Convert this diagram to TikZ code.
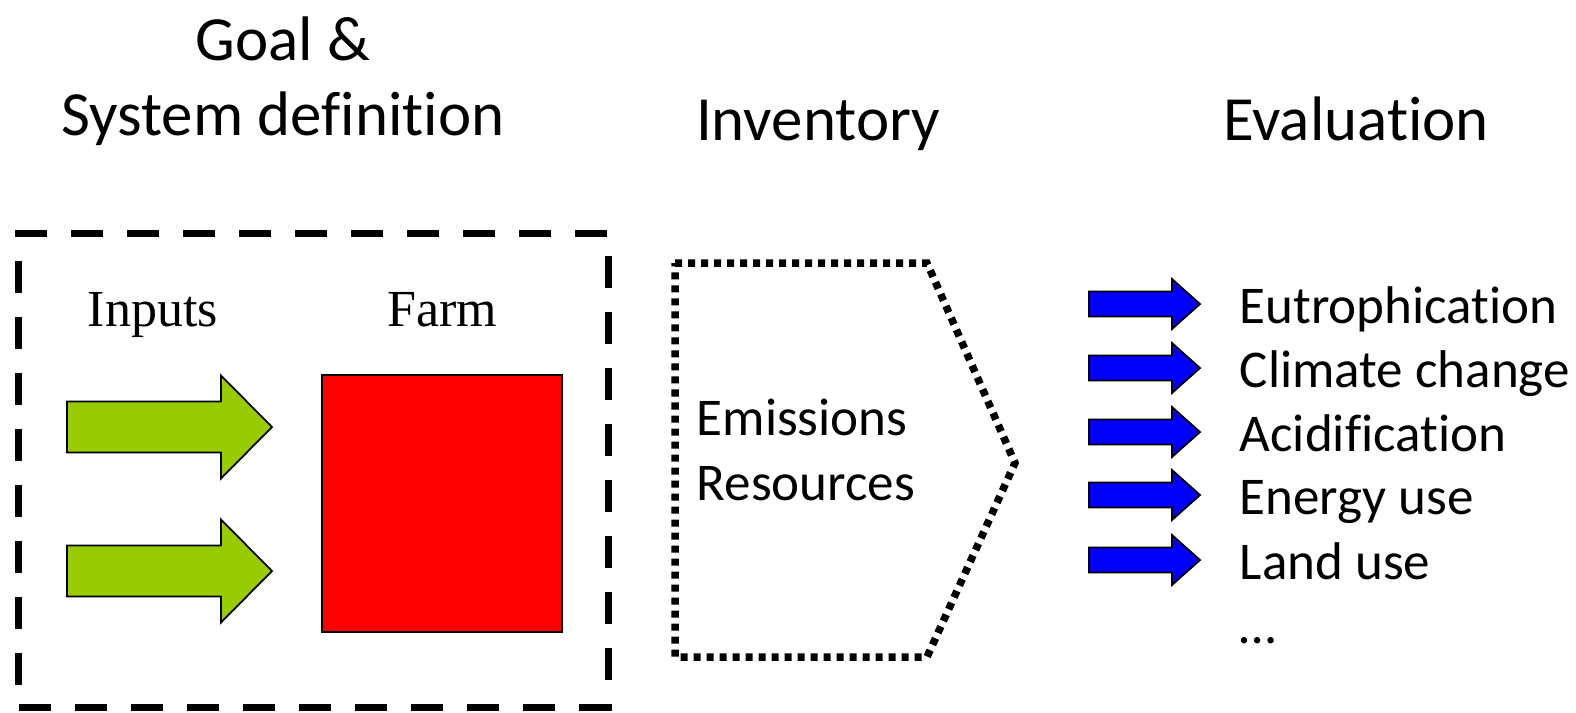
\documentclass[tikz,border=0pt]{standalone}
\usepackage{fontspec}
\setmainfont{Carlito}[Ligatures=NoCommon]
\newfontfamily\timesfont{Liberation Serif}
\usetikzlibrary{positioning, calc}
\definecolor{inputgreen}{HTML}{99CC00}
\definecolor{farmred}{HTML}{FF0000}
\definecolor{impactblue}{HTML}{0000FF}

\begin{document}
\begin{tikzpicture}[
    heading/.style={font=\fontsize{17.9}{21}\selectfont, inner sep=0, anchor=base},
    bodytext/.style={font=\fontsize{15.1}{18}\selectfont, inner sep=0, anchor=base west},
    serif/.style={font=\timesfont\fontsize{14.8}{18}\selectfont, inner sep=0, anchor=base},
    sysbound/.style={draw, line width=0.07cm, dash pattern=on 0.32cm off 0.24cm, rectangle, inner sep=0},
    invbound/.style={draw, line width=0.075cm, dash pattern=on 0.07cm off 0.06cm},
    farmbox/.style={rectangle, draw, line width=0.5pt, fill=farmred, inner sep=0, minimum width=2.4cm, minimum height=2.57cm},
    inarrow/.style={draw, line width=0.5pt, fill=inputgreen},
    outarrow/.style={draw, line width=0.5pt, fill=impactblue}
]
\useasboundingbox (0,0) rectangle (15.76,7.12);

% headings
\node[heading] (goal) at (2.83,6.52) {Goal \&};
\node[heading] (sysdef) at (2.83,5.77) {System definition};
\node[heading] (inventory) at (8.18,5.72) {Inventory};
\node[heading] (evaluation) at (13.56,5.72) {Evaluation};

% system boundary
\node[sysbound, minimum width=5.89cm, minimum height=4.74cm] (system) at (3.135,2.42) {};
\node[serif] (inputs) at (1.53,3.86) {Inputs};
\node[serif] (farmlbl) at (4.42,3.86) {Farm};
\node[farmbox] (farm) at (4.42,2.085) {};

\foreach \y in {2.85,1.41}
  \draw[inarrow] (0.67,{\y-0.255}) -- (2.21,{\y-0.255}) -- (2.21,{\y-0.515}) -- (2.72,\y)
    -- (2.21,{\y+0.515}) -- (2.21,{\y+0.255}) -- (0.67,{\y+0.255}) -- cycle;

% inventory
\draw[invbound] (6.75,4.49) -- (9.27,4.49) -- (10.15,2.49) -- (9.27,0.55) -- (6.75,0.55) -- cycle;
\node[bodytext] (emis) at (6.96,2.77) {Emissions};
\node[bodytext] (res) at ([yshift=-0.65cm]emis.base west) {Resources};

% evaluation
\foreach \y/\txt [count=\i] in {4.08/Eutrophication, 3.44/Climate change, 2.80/Acidification, 2.17/Energy use, 1.52/Land use} {
  \draw[outarrow] (10.89,{\y-0.125}) -- (11.72,{\y-0.125}) -- (11.72,{\y-0.25}) -- (12.00,\y)
    -- (11.72,{\y+0.25}) -- (11.72,{\y+0.125}) -- (10.89,{\y+0.125}) -- cycle;
  \node[bodytext] (impact\i) at (12.39,{\y-0.19}) {\txt};
}
\node[bodytext] (more) at (12.39,0.69) {…};

\end{tikzpicture}
\end{document}
